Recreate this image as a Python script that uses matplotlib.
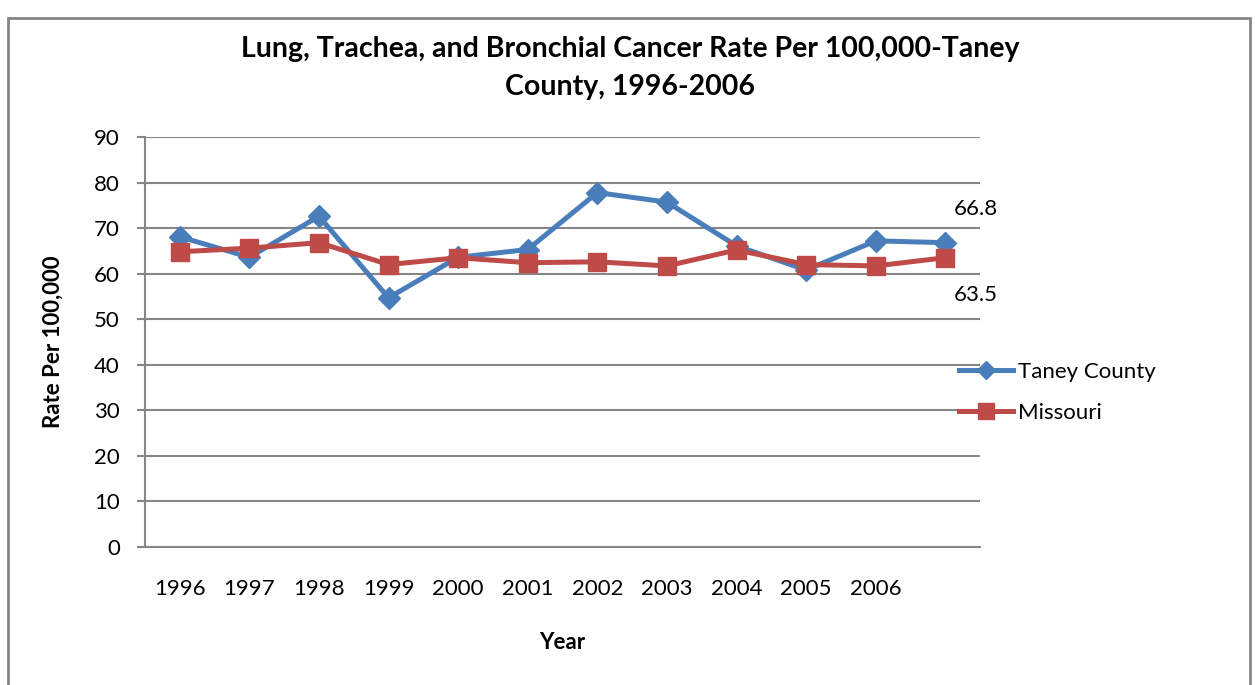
import matplotlib.pyplot as plt
from matplotlib.patches import Rectangle

years = ["1996", "1997", "1998", "1999", "2000", "2001", "2002", "2003", "2004", "2005", "2006", ""]
taney = [68.1, 63.6, 72.6, 54.7, 63.6, 65.3, 77.8, 75.7, 66.1, 60.8, 67.2, 66.8]
missouri = [64.8, 65.6, 66.8, 62.0, 63.5, 62.4, 62.6, 61.7, 65.2, 62.0, 61.7, 63.5]

plt.rcParams['font.family'] = ['Lato', 'DejaVu Sans']

fig = plt.figure(figsize=(12.55, 6.85), dpi=100)
ax = fig.add_axes([0.1155, 0.2015, 0.6655, 0.5985])

x = range(len(years))
ax.plot(x, taney, color="#4A7EBB", lw=3.6, marker="D", markersize=11, label="Taney County")
ax.plot(x, missouri, color="#BE4B48", lw=3.6, marker="s", markersize=13, label="Missouri")

# labels on the last points
ax.annotate(f"{taney[-1]}", (x[-1], taney[-1]), xytext=(22, 24), textcoords="offset points",
            ha="center", va="center", fontsize=16)
ax.annotate(f"{missouri[-1]}", (x[-1], missouri[-1]), xytext=(22, -27), textcoords="offset points",
            ha="center", va="center", fontsize=16)

ax.set_ylim(0, 90)
ax.set_yticks(range(0, 91, 10))
ax.set_xlim(-0.5, len(years) - 0.5)
ax.set_xticks(list(x))
ax.set_xticklabels(years)
ax.grid(axis="y", color="#868686", lw=1.5)
ax.set_axisbelow(True)
ax.tick_params(axis="x", length=0, pad=23, labelsize=16)
ax.tick_params(axis="y", length=6, width=1.5, color="#868686", pad=12, labelsize=16)
for s in ["top", "right"]:
    ax.spines[s].set_visible(False)
for s in ["left", "bottom"]:
    ax.spines[s].set_color("#868686")
    ax.spines[s].set_linewidth(1.5)

ax.set_xlabel("Year", fontsize=16, fontweight="bold", labelpad=24)
ax.set_ylabel("Rate Per 100,000", fontsize=16, fontweight="bold", labelpad=22)

fig.text(0.502, 0.928, "Lung, Trachea, and Bronchial Cancer Rate Per 100,000-Taney",
         ha="center", va="center", fontsize=20.5, fontweight="bold")
fig.text(0.502, 0.873, "County, 1996-2006", ha="center", va="center", fontsize=20.5, fontweight="bold")

ax.legend(loc="center left", bbox_to_anchor=(0.951, 0.377), frameon=False, fontsize=16,
          handlelength=2.4, labelspacing=0.95, handletextpad=0.25, markerscale=0.85)

fig.patches.append(Rectangle((0.0064, -0.02), 0.9896, 0.9937, transform=fig.transFigure,
                             fill=False, edgecolor="#868686", lw=2))

fig.savefig("out.png", dpi=100)
